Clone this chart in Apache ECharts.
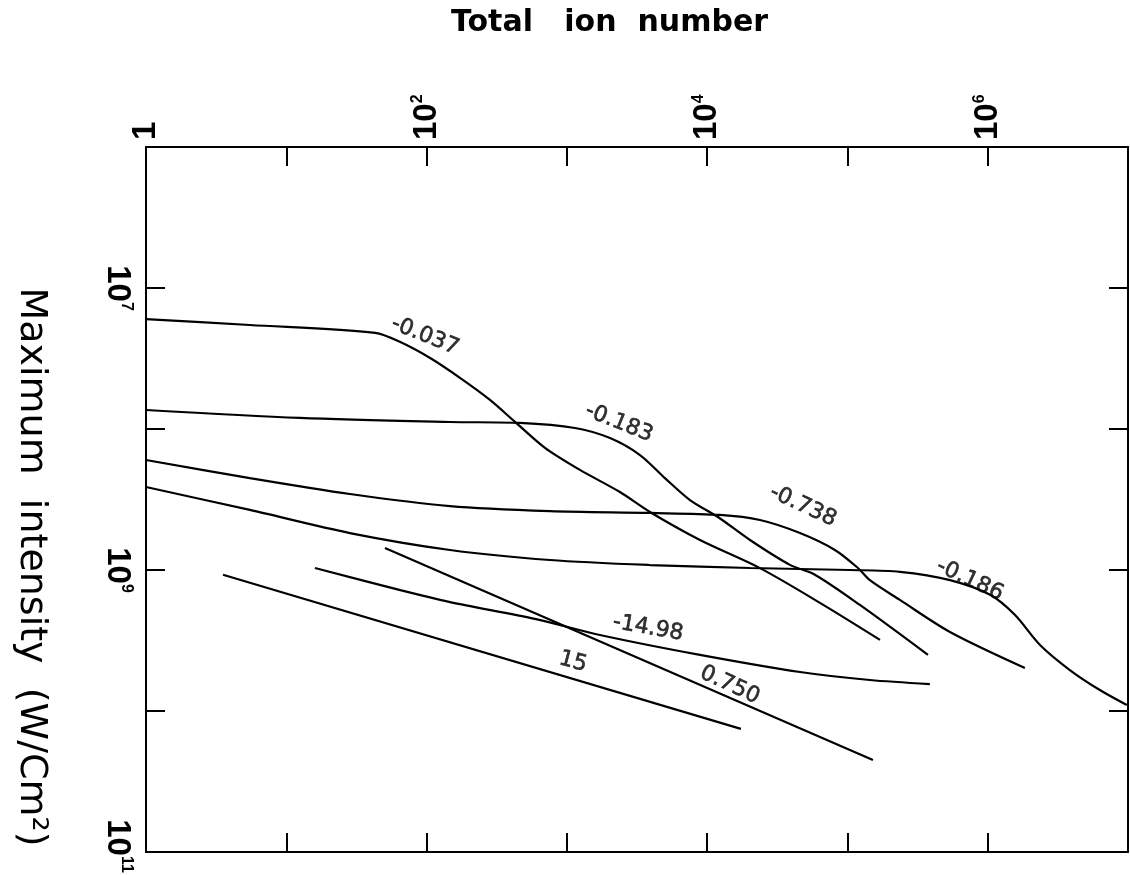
<!DOCTYPE html>
<html><head><meta charset="utf-8">
<script src="https://cdn.jsdelivr.net/npm/echarts@6/dist/echarts.min.js"></script>
<style>html,body{margin:0;padding:0;background:#fff}#c{width:1130px;height:875px}</style>
</head><body><div id="c"></div>
<script>
// ---- text ----
const xTitle = 'Total   ion  number';
const yTitle = 'Maximum  intensity  (W/Cm\u00B2)';
const xLabelExponents = [0, 2, 4, 6];
const yLabelExponents = [7, 9, 11];

// ---- curves: [total ion number, maximum intensity (W/cm^2)] ----
const curveM0037 = [[1,1.66e7],[5.5,1.83e7],[43,2.08e7],[65,2.42e7],[106,3.14e7],[173,4.34e7],[283,6.22e7],[427,8.9e7],[698,1.36e8],[1240,1.95e8],[2390,2.8e8],[3910,3.88e8],[8890,6.13e8],[23800,9.7e8],[63700,1.71e9],[170600,3.13e9]];
const curveM0183 = [[1,7.33e7],[12.5,8.35e7],[147,8.92e7],[463,9.06e7],[1143,9.84e7],[2030,1.16e8],[3320,1.53e8],[5000,2.23e8],[7540,3.19e8],[11940,4.21e8],[20200,6.13e8],[38900,9.2e8],[58600,1.08e9],[122700,1.77e9],[375000,4.0e9]];
const curveM0738 = [[1,1.66e8],[5.5,2.23e8],[28.4,2.89e8],[147,3.52e8],[758,3.82e8],[3910,3.94e8],[12300,4.07e8],[23800,4.42e8],[45900,5.47e8],[81400,7.21e8],[118800,9.68e8],[144600,1.18e9],[236600,1.63e9],[538000,2.75e9],[1.84e6,4.95e9]];
const curveM0186 = [[1,2.58e8],[5.5,3.75e8],[28.4,5.47e8],[147,7.21e8],[758,8.49e8],[3910,9.22e8],[20200,9.68e8],[104200,1.0e9],[236600,1.03e9],[538000,1.18e9],[1.04e6,1.5e9],[1.56e6,2.08e9],[2.36e6,3.4e9],[3.85e6,5.12e9],[6.3e6,7.1e9],[9.8e6,9.06e9]];
const curveM1498 = [[16,9.68e8],[65,1.39e9],[147,1.69e9],[602,2.23e9],[1720,2.89e9],[8890,4.0e9],[45900,5.29e9],[144600,6.03e9],[387000,6.44e9]];
const curveP0750 = [[50.5,6.98e8],[152000,2.23e10]];
const curveP15 = [[3.54,1.08e9],[17400,1.34e10]];

const curveList = [curveM0037, curveM0183, curveM0738, curveM0186, curveM1498, curveP0750, curveP15];

// ---- curve labels: [x, y, text, angle] ----
const labelPoints = [
  [97.4, 2.19e7, '-0.037', -22],
  [2350, 9.06e7, '-0.183', -22],
  [48200, 3.52e8, '-0.738', -25],
  [746000, 1.18e9, '-0.186', -25],
  [3790, 2.58e9, '-14.98', -10],
  [1105, 4.49e9, '15', -15],
  [14500, 6.55e9, '0.750', -25]
];

const exp10 = v => Math.round(Math.log(v) / Math.LN10);
const tickRich = {
  b: { fontFamily: 'Liberation Sans', fontWeight: 'bold', fontSize: 33, lineHeight: 33, color: '#000' },
  b1: { fontFamily: 'Liberation Sans', fontWeight: 'bold', fontSize: 33, lineHeight: 33, color: '#000', padding: [0, 14, 0, 0] },
  s: { fontFamily: 'Liberation Sans', fontWeight: 'bold', fontSize: 16, lineHeight: 16, color: '#000', verticalAlign: 'top' },
  s11: { fontFamily: 'Liberation Sans', fontWeight: 'bold', fontSize: 16, lineHeight: 16, color: '#000', verticalAlign: 'top', padding: [0, 12, 0, 0] }
};
const axisLine = { show: true, lineStyle: { color: '#000', width: 2 } };
const axisTick = { show: true, inside: true, length: 19, lineStyle: { color: '#000', width: 2 } };

const chart = echarts.init(document.getElementById('c'), null, { renderer: 'canvas' });
chart.setOption({
  animation: false,
  backgroundColor: '#fff',
  title: {
    text: xTitle, left: 446, top: 3,
    textStyle: { fontFamily: 'DejaVu Sans', fontWeight: 'bold', fontSize: 30, color: '#000' }
  },
  graphic: [{
    type: 'text', x: 31, y: 567, rotation: -Math.PI / 2,
    style: { text: yTitle, font: '38px "DejaVu Sans"', textAlign: 'center', textVerticalAlign: 'middle', fill: '#000' }
  }],
  grid: { left: 146, right: 2, top: 147, bottom: 23, containLabel: false, outerBoundsMode: 'none' },
  xAxis: [{
    type: 'log', logBase: 10, min: 1, max: 1e7, position: 'top', splitNumber: 7, interval: 1,
    axisLine, axisTick, splitLine: { show: false },
    axisLabel: {
      show: true, rotate: -90, margin: 7, interval: 0, showMinLabel: true, showMaxLabel: true,
      fontFamily: 'Liberation Sans', fontWeight: 'bold', fontSize: 33, color: '#000',
      rich: tickRich,
      formatter: v => { const e = exp10(v); if (e === 0) return '{b1|1}'; return xLabelExponents.indexOf(e) >= 0 ? '{b|10}{s|' + e + '}' : ''; }
    }
  }, {
    type: 'log', logBase: 10, min: 1, max: 1e7, position: 'bottom', splitNumber: 7, interval: 1,
    axisLine, axisTick, splitLine: { show: false }, axisLabel: { show: false }
  }],
  yAxis: [{
    type: 'log', logBase: 10, min: 1e6, max: 1e11, inverse: true, position: 'left', splitNumber: 5, interval: 1,
    axisLine, axisTick, splitLine: { show: false },
    axisLabel: {
      show: true, rotate: -90, margin: 12, interval: 0, showMinLabel: true, showMaxLabel: true,
      fontFamily: 'Liberation Sans', fontWeight: 'bold', fontSize: 33, color: '#000',
      rich: tickRich,
      formatter: v => {
        const e = exp10(v);
        if (yLabelExponents.indexOf(e) < 0) return '';
        return '{b|10}{' + (e === 11 ? 's11' : 's') + '|' + e + '}';
      }
    }
  }, {
    type: 'log', logBase: 10, min: 1e6, max: 1e11, inverse: true, position: 'right', splitNumber: 5, interval: 1,
    axisLine, axisTick, splitLine: { show: false }, axisLabel: { show: false }
  }],
  series: curveList.map(d => ({
    type: 'line', data: d, xAxisIndex: 0, yAxisIndex: 0, symbol: 'none',
    smooth: 0.3, silent: true,
    lineStyle: { color: '#000', width: 2.2 }
  })).concat([{
    type: 'scatter', xAxisIndex: 0, yAxisIndex: 0, symbolSize: 1, silent: true,
    itemStyle: { color: 'rgba(0,0,0,0)' },
    label: { show: true, position: 'inside', formatter: '{b}', fontFamily: 'DejaVu Sans', fontSize: 22, color: '#000', textBorderColor: '#000', textBorderWidth: 0.6 },
    data: labelPoints.map(p => ({ value: [p[0], p[1]], name: p[2], label: { rotate: p[3] } }))
  }])
});
</script></body></html>
